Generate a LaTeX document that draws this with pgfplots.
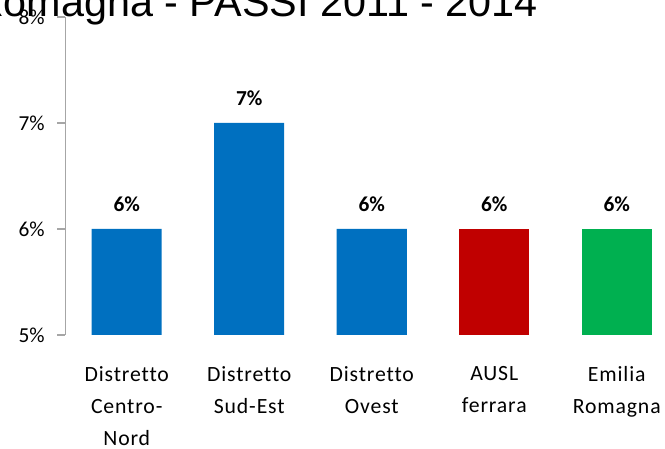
\documentclass[border=0pt]{standalone}
\usepackage{fontspec}
\setmainfont{Carlito}
\newfontfamily\titlefont{Liberation Sans}
\usepackage{pgfplots}
\pgfplotsset{compat=1.18}

\definecolor{barblue}{HTML}{0070C0}
\definecolor{barred}{HTML}{C00000}
\definecolor{bargreen}{HTML}{00B050}
\definecolor{axisgray}{HTML}{A6A6A6}

% 1 px of the reference = 0.75pt
\begin{document}
\begin{tikzpicture}
\path[use as bounding box, clip] (-49.125pt,-85.5pt) rectangle (449.625pt,251.25pt);
\begin{axis}[
  at={(0pt,0pt)}, anchor=south west,
  scale only axis, width=459.375pt, height=238.5pt,
  xmin=-0.5, xmax=4.5, ymin=5, ymax=8,
  /pgf/number format/assume math mode=true,
  axis lines*=left,
  x axis line style={draw=none},
  y axis line style={axisgray, line width=1pt},
  tick align=outside, major tick length=6pt,
  xtick={0,1,2,3,4},
  xticklabels={{Distretto\\Centro-\\Nord},{Distretto\\Sud-Est},{Distretto\\Ovest},{AUSL\\ferrara},{Emilia\\Romagna}},
  xtick style={draw=none},
  xticklabel style={align=center, inner sep=0pt, yshift=-17.5pt,
    font=\addfontfeatures{LetterSpace=4,Ligatures=NoCommon}\fontsize{16.3}{24}\selectfont},
  ytick={5,6,7,8},
  yticklabels={5\%,6\%,7\%,8\%},
  ytick style={axisgray, line width=1pt},
  yticklabel style={inner sep=0pt, xshift=-9.4pt, font=\fontsize{16}{19}\selectfont},
  ybar, bar width=52.5pt, bar shift=0pt,
  nodes near coords={\pgfmathprintnumber{\pgfplotspointmeta}\%},
  every node near coord/.append style={anchor=center, yshift=18.75pt,
    font=\bfseries\fontsize{16}{19}\selectfont},
]
\addplot[fill=barblue, draw=none] coordinates {(0,6) (1,7) (2,6)};
\addplot[fill=barred, draw=none] coordinates {(3,6)};
\addplot[fill=bargreen, draw=none] coordinates {(4,6)};
\end{axis}
\node[anchor=base east, inner sep=0pt, font=\titlefont\fontsize{31}{36}\selectfont]
  at (354.4pt,238.5pt) {Emilia Romagna - PASSI 2011 - 2014};
\end{tikzpicture}
\end{document}
